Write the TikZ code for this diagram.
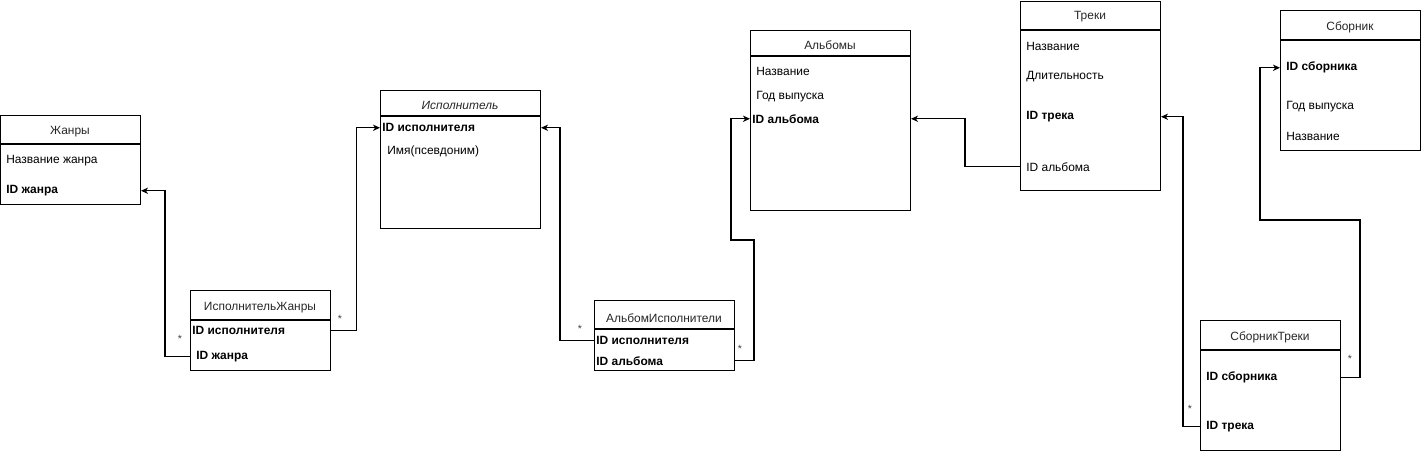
\documentclass[tikz,border=0pt]{standalone}
\usepackage{fontspec}
\setmainfont{Liberation Sans}
\usetikzlibrary{arrows.meta}

\tikzset{
  tbl/.style={draw, line width=0.6pt, inner sep=0pt, anchor=north west},
  ttl/.style={inner sep=0pt, yshift=-1pt, font=\fontsize{6.8}{8}\selectfont, text=black!85},
  fld/.style={anchor=west, inner sep=0pt, yshift=-1pt, font=\fontsize{6.8}{8}\selectfont},
  key/.style={fld, font=\fontsize{6.8}{8}\selectfont\bfseries},
  lnk/.style={line width=0.6pt, -{Stealth[length=4pt,width=3.6pt,inset=1.2pt]}},
  mul/.style={inner sep=0pt, font=\fontsize{6}{7}\selectfont, text=black!75}
}

\begin{document}
\begin{tikzpicture}[x=0.02cm, y=-0.02cm]
  \useasboundingbox (0,0) rectangle (1421,451);

  %%%%% Жанры
  \node[tbl, minimum width=2.8cm, minimum height=1.78cm] (zh) at (0,115) {};
  \draw[line width=0.6pt] (0,144) -- (140,144);
  \node[ttl] (zhT) at (70,130) {Жанры};
  \node[fld] (zhName) at (6,159) {Название жанра};
  \node[key] (zhId) at (6,189) {ID жанра};

  %%%%% ИсполнительЖанры
  \node[tbl, minimum width=2.8cm, minimum height=1.6cm] (ij) at (190,290) {};
  \draw[line width=0.6pt] (190,320) -- (330,320);
  \node[ttl] (ijT) at (260,306) {ИсполнительЖанры};
  \node[key] (ijIsp) at (192,329) {ID исполнителя};
  \node[key] (ijZh) at (196,355) {ID жанра};

  %%%%% Исполнитель
  \node[tbl, minimum width=3.2cm, minimum height=2.76cm] (isp) at (380,90) {};
  \draw[line width=0.6pt] (380,116) -- (540,116);
  \node[ttl, font=\fontsize{6.8}{8}\selectfont\itshape] (ispT) at (460,104) {Исполнитель};
  \node[key] (ispId) at (382,126) {ID исполнителя};
  \node[fld] (ispName) at (387,150) {Имя(псевдоним)};

  %%%%% АльбомИсполнители
  \node[tbl, minimum width=2.8cm, minimum height=1.4cm] (ai) at (594,300) {};
  \draw[line width=0.6pt] (594,329) -- (734,329);
  \node[ttl] (aiT) at (664,316) {АльбомИсполнители};
  \node[key] (aiIsp) at (596,339) {ID исполнителя};
  \node[key] (aiAlb) at (596,359) {ID альбома};

  %%%%% Альбомы
  \node[tbl, minimum width=3.2cm, minimum height=3.6cm] (alb) at (750,30) {};
  \draw[line width=0.6pt] (750,56) -- (910,56);
  \node[ttl] (albT) at (830,43) {Альбомы};
  \node[fld] (albName) at (756,70) {Название};
  \node[fld] (albYear) at (756,95) {Год выпуска};
  \node[key] (albId) at (752,117) {ID альбома};

  %%%%% Треки
  \node[tbl, minimum width=2.8cm, minimum height=3.78cm] (tr) at (1020,1) {};
  \draw[line width=0.6pt] (1020,30) -- (1160,30);
  \node[ttl] (trT) at (1090,15) {Треки};
  \node[fld] (trName) at (1026,45) {Название};
  \node[fld] (trLen) at (1026,75) {Длительность};
  \node[key] (trId) at (1026,115) {ID трека};
  \node[fld] (trAlb) at (1026,165) {ID альбома};

  %%%%% Сборник
  \node[tbl, minimum width=2.8cm, minimum height=2.8cm] (sb) at (1280,10) {};
  \draw[line width=0.6pt] (1280,40) -- (1420,40);
  \node[ttl] (sbT) at (1350,26) {Сборник};
  \node[key] (sbId) at (1286,66) {ID сборника};
  \node[fld] (sbYear) at (1286,105) {Год выпуска};
  \node[fld] (sbName) at (1286,135) {Название};

  %%%%% СборникТреки
  \node[tbl, minimum width=2.8cm, minimum height=2.6cm] (st) at (1200,320) {};
  \draw[line width=0.6pt] (1200,350) -- (1340,350);
  \node[ttl] (stT) at (1270,336) {СборникТреки};
  \node[key] (stSb) at (1206,376) {ID сборника};
  \node[key] (stTr) at (1206,425) {ID трека};

  %%%%% связи
  \coordinate (dR) at (754,240);
  \coordinate (dL) at (731,240);
  \coordinate (gR) at (1360,220);
  \coordinate (gL) at (1260,220);

  \draw[lnk] (ij.west |- ijZh) -- ++(-25,0) |- (zh.east |- zhId);
  \draw[lnk] (ij.east |- ijIsp) -- ++(25,0) |- (isp.west |- ispId);
  \draw[lnk] (ai.west |- aiIsp) -- ++(-34,0) |- (isp.east |- ispId);
  \draw[lnk] (ai.east |- aiAlb) -| (dR) -- (dL) |- (alb.west |- albId);
  \draw[lnk] (tr.west |- trAlb) -- ++(-55,0) |- (alb.east |- albId);
  \draw[lnk] (st.west |- stTr) -- ++(-17,0) |- (tr.east |- trId);
  \draw[lnk] (st.east |- stSb) -| (gR) -- (gL) |- (sb.west |- sbId);

  \node[mul] (m1) at (180,339) {*};
  \node[mul] (m2) at (340,319) {*};
  \node[mul] (m3) at (580,329) {*};
  \node[mul] (m4) at (740,349) {*};
  \node[mul] (m5) at (1190,409) {*};
  \node[mul] (m6) at (1350,359) {*};
\end{tikzpicture}
\end{document}
